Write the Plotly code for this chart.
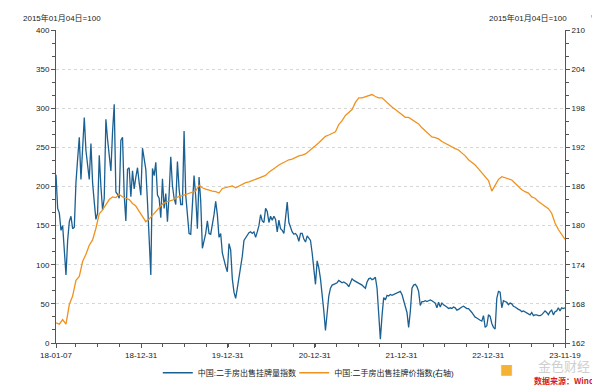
import pandas as pd
import plotly.graph_objects as go

# ---------------- data ----------------
start_date = "2018-01-07"
end_date = "2023-11-19"

# weekly listing-volume index (left axis), 2018-01-07 .. 2023-11-19
volume_index = [
    215, 172, 166, 144, 150, 120, 87, 131, 155, 162,
    146, 148, 205, 235, 263, 209, 250, 288, 246, 225,
    209, 255, 205, 180, 158, 166, 240, 200, 170, 185,
    286, 260, 240, 220, 270, 305, 193, 190, 185, 259,
    263, 189, 156, 222, 224, 187, 220, 197, 212, 224,
    205, 189, 249, 235, 222, 180, 140, 87, 223, 214,
    231, 189, 185, 160, 210, 172, 191, 155, 190, 238,
    201, 185, 177, 232, 197, 177, 177, 271, 189, 160,
    140, 139, 177, 214, 187, 146, 212, 181, 121, 129,
    140, 156, 140, 139, 150, 164, 181, 164, 135, 140,
    115, 105, 98, 91, 127, 119, 82, 65, 57, 70,
    82, 95, 111, 131, 135, 137, 141, 142, 140, 142,
    135, 142, 150, 164, 156, 154, 172, 168, 154, 162,
    157, 162, 158, 142, 157, 146, 144, 140, 160, 180,
    154, 148, 142, 139, 140, 137, 130, 140, 140, 133,
    129, 137, 134, 131, 115, 95, 75, 105, 96, 82,
    65, 41, 16, 35, 60, 70, 74, 75, 76, 77,
    80, 79, 77, 78, 77, 75, 72, 77, 82, 80,
    79, 78, 77, 76, 74, 72, 70, 78, 82, 83,
    81, 82, 84, 70, 35, 5, 35, 58, 55, 61,
    60, 62, 61, 62, 63, 64, 66, 66, 62, 55,
    45, 39, 20, 40, 70, 74, 75, 72, 66, 48,
    53, 53, 54, 53, 54, 55, 54, 53, 51, 45,
    52, 46, 51, 49, 48, 46, 44, 45, 44, 46,
    45, 42, 43, 45, 46, 47, 45, 44, 44, 42,
    39, 36, 33, 32, 30, 29, 28, 35, 20, 22,
    36, 34, 25, 20, 18, 57, 66, 65, 45, 54,
    53, 52, 49, 51, 50, 47, 46, 44, 43, 42,
    40, 41, 40, 38, 37, 36, 39, 35, 36, 36,
    35, 35, 36, 38, 41, 39, 36, 40, 42, 36,
    40, 41, 45, 41, 45, 44, 45,
]

# bi-weekly listing-price index (right axis), 2018-01-07 .. 2023-11-19
price_index = [
    165.1, 164.9, 165.6, 164.9, 167.9, 169.2, 171.6, 172.2, 174.5, 175.6,
    177.0, 177.8, 179.6, 181.8, 182.4, 183.3, 184.0, 184.4, 184.3, 184.8,
    184.4, 184.2, 184.0, 183.4, 183.0, 182.2, 181.4, 180.6, 181.0, 181.6,
    182.2, 182.8, 183.3, 183.6, 183.7, 183.9, 184.2, 184.5, 184.6, 184.8,
    184.9, 185.2, 185.3, 186.2, 185.8, 185.6, 185.4, 185.3, 185.2, 185.0,
    185.7, 185.8, 185.9, 186.1, 185.8, 186.1, 186.3, 186.6, 186.7, 186.9,
    187.1, 187.2, 187.4, 187.7, 188.2, 188.5, 188.9, 189.3, 189.6, 189.9,
    190.1, 190.2, 190.5, 190.7, 190.8, 191.0, 191.4, 191.8, 192.2, 192.7,
    193.2, 193.7, 193.9, 194.1, 194.4, 195.5, 196.1, 196.9, 197.3, 197.8,
    198.9, 199.6, 199.6, 199.8, 200.0, 200.1, 199.8, 199.6, 199.6, 199.1,
    198.7, 198.2, 197.8, 197.4, 197.0, 196.6, 196.6, 196.3, 196.0, 195.6,
    195.0, 194.5, 194.0, 193.6, 193.5, 193.3, 192.9, 192.6, 192.4, 192.1,
    191.8, 191.6, 191.2, 190.7, 190.1, 189.7, 189.3, 188.7, 188.1, 187.5,
    186.9, 185.3, 186.1, 187.1, 187.5, 187.3, 187.2, 187.0, 186.5, 186.0,
    185.5, 185.2, 185.0, 184.4, 184.2, 183.7, 183.3, 183.0, 182.6, 181.9,
    180.4, 179.4, 178.6, 177.9,
]

volume_name = "中国:二手房出售挂牌量指数"
price_name = "中国:二手房出售挂牌价指数(右轴)"
base_note = "2015年01月04日=100"
brand = "金色财经"
source_note = "数据来源：Wind"

x_tick_dates = ["2018-01-07", "2018-12-31", "2019-12-31", "2020-12-31",
                "2021-12-31", "2022-12-31", "2023-11-19"]
x_tick_labels = ["18-01-07", "18-12-31", "19-12-31", "20-12-31",
                 "21-12-31", "22-12-31", "23-11-19"]
left_ticks = [0, 50, 100, 150, 200, 250, 300, 350, 400]
right_ticks = [162, 168, 174, 180, 186, 192, 198, 204, 210]

volume_dates = pd.date_range(start_date, end_date, freq="7D")
price_dates = pd.date_range(start_date, end_date, freq="14D")

# ---------------- figure ----------------
BLUE = "#1b6092"
ORANGE = "#f0921e"
AXIS = "#555555"
FONT = "Liberation Sans, Arial, Noto Sans CJK SC, sans-serif"

fig = go.Figure()
fig.add_trace(go.Scatter(
    x=volume_dates, y=volume_index, name=volume_name, mode="lines",
    line=dict(color=BLUE, width=1.3), yaxis="y", legend="legend"))
fig.add_trace(go.Scatter(
    x=price_dates, y=price_index, name=price_name, mode="lines",
    line=dict(color=ORANGE, width=1.3), yaxis="y2", legend="legend2"))

legend_common = dict(orientation="h", y=-0.095, yanchor="middle",
                     xanchor="left", font=dict(size=8, color="#222222"),
                     bgcolor="rgba(0,0,0,0)", borderwidth=0)

fig.update_layout(
    width=600, height=391,
    margin=dict(l=48, r=43, t=22, b=45),
    paper_bgcolor="white", plot_bgcolor="white",
    font=dict(family=FONT, size=8, color="#222222"),
    showlegend=True,
    legend=dict(x=0.20, **legend_common),
    legend2=dict(x=0.468, **legend_common),
    xaxis=dict(
        type="date",
        range=[start_date, end_date],
        tickvals=x_tick_dates, ticktext=x_tick_labels,
        ticks="outside", ticklen=4, tickcolor=AXIS, tickwidth=1,
        showline=True, linecolor=AXIS, linewidth=1,
        showgrid=False, zeroline=False,
        tickfont=dict(size=8, color="#222222"),
        minor=dict(ticks="outside", ticklen=3, tickcolor=AXIS,
                   tick0="2018-01-01", dtick="M3", showgrid=False),
    ),
    yaxis=dict(
        range=[0, 400], tickvals=left_ticks,
        ticks="outside", ticklen=4, tickcolor=AXIS,
        showline=True, linecolor=AXIS, linewidth=1,
        showgrid=True, gridcolor="#d6d6d6", griddash="dot", gridwidth=1,
        zeroline=False, tickfont=dict(size=8, color="#222222"),
        minor=dict(ticks="outside", ticklen=3, tickcolor=AXIS,
                   tick0=0, dtick=50 / 3, showgrid=False),
    ),
    yaxis2=dict(
        range=[162, 210], tickvals=right_ticks, overlaying="y", side="right",
        ticks="outside", ticklen=4, tickcolor=AXIS,
        showline=True, linecolor=AXIS, linewidth=1,
        showgrid=False, zeroline=False, tickfont=dict(size=8, color="#222222"),
        minor=dict(ticks="outside", ticklen=3, tickcolor=AXIS,
                   tick0=162, dtick=2, showgrid=False),
    ),
    annotations=[
        dict(text=base_note, xref="paper", yref="paper", x=-0.069, y=1.037,
             xanchor="left", yanchor="middle", showarrow=False,
             font=dict(size=8, color="#222222")),
        dict(text=base_note, xref="paper", yref="paper", x=1.008, y=1.037,
             xanchor="right", yanchor="middle", showarrow=False,
             font=dict(size=8, color="#222222")),
        dict(text="⤢", xref="paper", yref="paper", x=1.058, y=1.05,
             xanchor="center", yanchor="middle", showarrow=False,
             font=dict(size=9, color="#444444")),
        dict(text="<b>■</b>", xref="paper", yref="paper", x=0.885, y=-0.085,
             xanchor="center", yanchor="middle", showarrow=False,
             font=dict(size=22, color="#f5b335")),
        dict(text=brand, xref="paper", yref="paper", x=0.998, y=-0.071,
             xanchor="center", yanchor="middle", showarrow=False,
             font=dict(size=13, color="#cfcfcf", family="Noto Sans CJK SC")),
        dict(text="<b>" + source_note + "</b>", xref="paper", yref="paper",
             x=1.06, y=-0.1204, xanchor="right", yanchor="middle", showarrow=False,
             font=dict(size=8, color="#d42020", family="Noto Sans CJK SC")),
    ],
)

fig.write_html("out.html")
